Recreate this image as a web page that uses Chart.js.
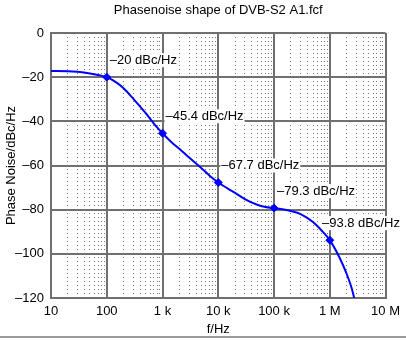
<!DOCTYPE html>
<html>
<head>
<meta charset="utf-8">
<title>Phasenoise shape</title>
<script src="https://cdn.jsdelivr.net/npm/chart.js@4"></script>
<style>
  html, body { margin: 0; padding: 0; background: #fff; }
  #wrap { width: 406px; height: 341px; }
</style>
</head>
<body>
<div id="wrap"><canvas id="noiseChart" width="406" height="341"></canvas></div>
<script>
const chartTitle = 'Phasenoise shape of DVB-S2 A1.fcf';
const xTitle = 'f/Hz';
const yTitle = 'Phase Noise/dBc/Hz';

// curve
const freqHz = [10, 20, 30, 50, 70, 100, 150, 200, 300, 500, 700,
    1000, 1500, 2000, 3000, 5000, 7000, 10000, 20000, 30000, 50000, 70000,
    100000, 150000, 200000, 300000, 500000, 700000, 1000000, 1500000, 2000000, 2500000, 2800000];
const noiseDbc = [-17.2, -17.3, -17.6, -18.3, -19.0, -20.0, -22.5, -25.0, -29.8, -36.3, -41.0,
    -45.4, -49.8, -52.4, -56.4, -61.2, -64.6, -67.7, -72.4, -75.2, -77.8, -78.8,
    -79.3, -79.9, -80.6, -82.0, -85.6, -89.2, -93.8, -101.8, -109.0, -116.0, -121.0];

// marked points with their labels
const markerFreqHz = [100, 1000, 10000, 100000, 1000000];
const markerDbc = [-20, -45.4, -67.7, -79.3, -93.8];
const markerLabels = ['\u201320 dBc/Hz', '\u201345.4 dBc/Hz', '\u201367.7 dBc/Hz', '\u201379.3 dBc/Hz', '\u201393.8 dBc/Hz'];

const decadeLabels = ['10', '100', '1 k', '10 k', '100 k', '1 M', '10 M'];
const yTicks = [0, -20, -40, -60, -80, -100, -120];

const FONT = '"Liberation Sans", Arial, sans-serif';
const BLUE = '#0000ff';
const MAJOR = '#707070';

function isDecade(v) {
    const l = Math.log10(v);
    return Math.abs(l - Math.round(l)) < 1e-9;
}

// title, label boxes and the bottom rule
const annotate = {
    id: 'annotate',
    beforeDatasetsDraw(chart) {
        const ctx = chart.ctx;
        const pts = chart.getDatasetMeta(1).data;
        ctx.save();
        ctx.font = '13px ' + FONT;
        ctx.textBaseline = 'middle';
        pts.forEach((p, i) => {
            const w = ctx.measureText(markerLabels[i]).width;
            let x = p.x + 3;
            if (x + w > chart.width - 6) x = chart.width - 6 - w;
            const y = p.y - 17;
            ctx.fillStyle = '#fff';
            ctx.fillRect(x - 1, y - 7, w + 2, 14);
            ctx.fillStyle = '#000';
            ctx.fillText(markerLabels[i], x, y);
        });
        ctx.restore();
    },
    afterDraw(chart) {
        const ctx = chart.ctx;
        const area = chart.chartArea;
        ctx.save();
        ctx.font = '13px ' + FONT;
        ctx.fillStyle = '#000';
        ctx.textAlign = 'center';
        ctx.textBaseline = 'middle';
        ctx.fillText(chartTitle, (area.left + area.right) / 2, 10);
        ctx.fillStyle = '#9a9a9a';
        ctx.fillRect(0, 336, chart.width, 2);
        ctx.restore();
    }
};

new Chart(document.getElementById('noiseChart'), {
    type: 'line',
    data: {
        datasets: [{
            data: freqHz.map((f, i) => ({ x: f, y: noiseDbc[i] })),
            borderColor: BLUE,
            borderWidth: 2,
            pointRadius: 0,
            cubicInterpolationMode: 'monotone',
            fill: false
        }, {
            data: markerFreqHz.map((f, i) => ({ x: f, y: markerDbc[i] })),
            showLine: false,
            pointStyle: 'rectRot',
            pointRadius: 4,
            backgroundColor: BLUE,
            borderColor: BLUE
        }]
    },
    options: {
        responsive: false,
        animation: false,
        layout: { padding: { top: 33, right: 17, left: 0, bottom: 0 } },
        plugins: {
            legend: { display: false },
            tooltip: { enabled: false },
            title: { display: false }
        },
        scales: {
            x: {
                type: 'logarithmic',
                min: 10,
                max: 1e7,
                afterBuildTicks(scale) {
                    const ticks = [];
                    for (let e = 1; e < 7; e++) {
                        for (let s = 1; s < 10; s++) ticks.push({ value: s * Math.pow(10, e) });
                    }
                    ticks.push({ value: 1e7 });
                    scale.ticks = ticks;
                },
                afterFit(scale) { scale.height = 43; },
                ticks: {
                    autoSkip: false,
                    maxRotation: 0,
                    padding: 6,
                    color: '#000',
                    font: { family: FONT, size: 13 },
                    callback: (v) => isDecade(v) ? decadeLabels[Math.round(Math.log10(v)) - 1] : ''
                },
                grid: {
                    drawTicks: false,
                    color: (c) => c.tick && isDecade(c.tick.value) ? MAJOR : '#777',
                    lineWidth: (c) => c.tick && isDecade(c.tick.value) ? 2 : 1
                },
                border: {
                    color: MAJOR,
                    width: 2,
                    dash: (c) => c.tick && !isDecade(c.tick.value) ? [1, 3] : []
                },
                title: {
                    display: true,
                    text: xTitle,
                    color: '#000',
                    font: { family: FONT, size: 13 }
                }
            },
            y: {
                min: -120,
                max: 0,
                afterBuildTicks(scale) { scale.ticks = yTicks.map(v => ({ value: v })); },
                afterFit(scale) { scale.width = 51; },
                ticks: {
                    padding: 7,
                    color: '#000',
                    font: { family: FONT, size: 13 },
                    callback: (v) => v === 0 ? '0' : '\u2013' + Math.abs(v)
                },
                grid: { drawTicks: false, color: MAJOR, lineWidth: 2 },
                border: { color: MAJOR, width: 2 },
                title: {
                    display: true,
                    text: yTitle,
                    color: '#000',
                    font: { family: FONT, size: 13 }
                }
            }
        }
    },
    plugins: [annotate]
});
</script>
</body>
</html>
